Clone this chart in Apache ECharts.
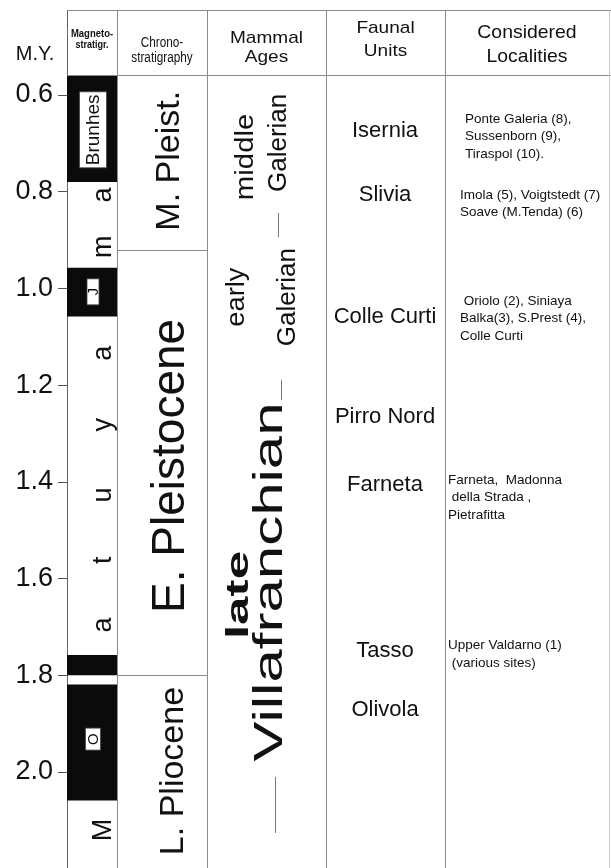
<!DOCTYPE html>
<html><head><meta charset="utf-8">
<script src="https://cdn.jsdelivr.net/npm/echarts@6/dist/echarts.min.js"></script>
<style>html,body{margin:0;padding:0;background:#fff}#c{width:611px;height:868px}</style>
</head><body><div id="c"></div>
<script>
// ---------------- data (ages in M.Y.) ----------------
const tableTop = 0.5586;                     // age at lower edge of header
const normalPolarity = [[0.5586, 0.78], [0.957, 1.058], [1.758, 1.800], [1.819, 2.059]];
const polarityLabels = ['Brunhes', 'J', 'O'];
const polarityLabelAges = [0.672, 1.007, 1.932];
const matuyamaLetters = ['a', 'm', 'a', 'y', 'u', 't', 'a', 'M'];
const matuyamaLetterAges = [0.807, 0.914, 1.134, 1.282, 1.427, 1.562, 1.696, 2.12];

const chronoNames = ['M. Pleist.', 'E. Pleistocene', 'L. Pliocene'];
const chronoLabelAges = [0.736, 1.367, 1.998];
const chronoBoundaries = [0.92, 1.80];

const mammalAgeWords = [['middle', 'Galerian'], ['early', 'Galerian'], ['late', 'Villafranchian']];
const mammalAgeWordAges = [[0.728, 0.699], [1.018, 1.018], [1.634, 1.607]];
const mammalAgeDashes = [[0.844, 0.894], [1.189, 1.231], [2.01, 2.126]];

const faunalUnits = ['Isernia', 'Slivia', 'Colle Curti', 'Pirro Nord', 'Farneta', 'Tasso', 'Olivola'];
const faunalUnitAges = [0.674, 0.807, 1.059, 1.266, 1.406, 1.75, 1.872];

const localities = [
  ['Ponte Galeria (8),', 'Sussenborn (9),', 'Tiraspol (10).'],
  ['Imola (5), Voigtstedt (7)', 'Soave (M.Tenda) (6)'],
  [' Oriolo (2), Siniaya', 'Balka(3), S.Prest (4),', 'Colle Curti'],
  ['Farneta,  Madonna', ' della Strada ,', 'Pietrafitta'],
  ['Upper Valdarno (1)', ' (various sites)']
];
const localityAges = [0.650, 0.807, 1.026, 1.396, 1.739];   // age of first text line

const yTickLabels = ['0.6', '0.8', '1.0', '1.2', '1.4', '1.6', '1.8', '2.0'];

// ---------------- layout / style ----------------
const FONT = '"Liberation Sans", Arial, Helvetica, sans-serif';
const INK = '#111';
const RULE = '#8a8a8a';
const GL = 67;   // grid left px
const ROT = Math.PI / 2;

function T(x, y, text, size, extra) {
  extra = extra || {};
  const el = {
    type: 'text', x: x, y: y,
    style: { text: text, fontSize: size, fontFamily: FONT, fontWeight: extra.weight || 'normal',
      fill: INK, align: extra.align || 'center', verticalAlign: 'middle' }
  };
  if (extra.rotation) el.rotation = extra.rotation;
  if (extra.scaleX) el.scaleX = extra.scaleX;
  if (extra.scaleY) el.scaleY = extra.scaleY;
  if (extra.z != null) el.z = extra.z;
  return el;
}

const chart = echarts.init(document.getElementById('c'), null, { renderer: 'canvas' });

const option = {
  animation: false,
  backgroundColor: '#fff',
  grid: { left: GL, right: 0, top: -1.7, height: 870.4, containLabel: false, outerBoundsMode: 'none' },
  xAxis: { type: 'value', min: 0, max: 544, show: false },
  yAxis: {
    type: 'value', inverse: true, min: 0.4, max: 2.2, interval: 0.2,
    axisLine: { show: true, lineStyle: { color: '#666', width: 1 } },
    axisTick: { show: true, inside: false, length: 9, lineStyle: { color: '#555' } },
    splitLine: { show: false },
    axisLabel: {
      margin: 14, fontSize: 27, color: INK, fontFamily: FONT,
      formatter: function (v) {
        const s = v.toFixed(1);
        return yTickLabels.indexOf(s) >= 0 ? s : '';
      }
    }
  },
  series: [
    { // normal polarity (black) intervals
      type: 'custom', silent: true,
      data: normalPolarity,
      renderItem: function (params, api) {
        const a = api.coord([0, api.value(0)]);
        const b = api.coord([50, api.value(1)]);
        return { type: 'rect', shape: { x: a[0], y: a[1], width: b[0] - a[0], height: b[1] - a[1] },
          style: { fill: '#0b0b0b' } };
      }
    },
    { // boxed chron names
      type: 'custom', silent: true, z: 3,
      data: polarityLabelAges.map(function (a) { return [0, a]; }),
      renderItem: function (params, api) {
        const i = params.dataIndex;
        const y = api.coord([0, api.value(1)])[1];
        const cx = GL + 26;
        const dims = [[27, 76, 19], [12, 26, 15], [15, 22, 15]][i];
        return { type: 'group', children: [
          { type: 'rect', shape: { x: cx - dims[0] / 2, y: y - dims[1] / 2, width: dims[0], height: dims[1] },
            style: { fill: '#fff', stroke: '#444', lineWidth: 0.8 } },
          T(cx + 0.5, y, polarityLabels[i], dims[2], { rotation: ROT })
        ] };
      }
    },
    { // Matuyama letters
      type: 'custom', silent: true, z: 3,
      data: matuyamaLetterAges.map(function (a) { return [0, a]; }),
      renderItem: function (params, api) {
        const y = api.coord([0, api.value(1)])[1];
        return T(GL + 37, y, matuyamaLetters[params.dataIndex], 27, { rotation: ROT });
      }
    },
    { // chronostratigraphy boundaries
      type: 'custom', silent: true,
      data: chronoBoundaries.map(function (a) { return [0, a]; }),
      renderItem: function (params, api) {
        const a = api.coord([50, api.value(1)]);
        const b = api.coord([140, api.value(1)]);
        return { type: 'line', shape: { x1: a[0], y1: Math.round(a[1]) + 0.5, x2: b[0] + 0.5, y2: Math.round(b[1]) + 0.5 },
          style: { stroke: RULE, lineWidth: 1 } };
      }
    },
    { // chronostratigraphy names
      type: 'custom', silent: true,
      data: chronoLabelAges.map(function (a) { return [0, a]; }),
      renderItem: function (params, api) {
        const i = params.dataIndex;
        const y = api.coord([0, api.value(1)])[1];
        const xs = [103, 104, 107], fs = [34, 46, 34];
        return T(GL + xs[i], y, chronoNames[i], fs[i], { rotation: ROT });
      }
    },
    { // mammal ages
      type: 'custom', silent: true,
      data: mammalAgeWordAges.map(function (a) { return [0, a[0], a[1]]; }),
      renderItem: function (params, api) {
        const i = params.dataIndex;
        const y1 = api.coord([0, api.value(1)])[1];
        const y2 = api.coord([0, api.value(2)])[1];
        const xs = [[179, 212], [170, 221], [172, 204]];
        const fs = [[26, 26], [26, 26], [32, 40]];
        const sc = [[1.13, 1], [1.05, 1], [1.6, 1.5]];
        const w = [['normal', 'normal'], ['normal', 'normal'], ['bold', 'normal']];
        return { type: 'group', children: [
          T(GL + xs[i][0], y1, mammalAgeWords[i][0], fs[i][0], { rotation: ROT, scaleX: sc[i][0], weight: w[i][0] }),
          T(GL + xs[i][1], y2, mammalAgeWords[i][1], fs[i][1], { rotation: ROT, scaleX: sc[i][1], weight: w[i][1] })
        ] };
      }
    },
    { // dash separators in mammal-age column
      type: 'custom', silent: true,
      data: mammalAgeDashes,
      renderItem: function (params, api) {
        const xs = [211, 214, 208];
        const x = GL + xs[params.dataIndex] + 0.5;
        const a = api.coord([0, api.value(0)]);
        const b = api.coord([0, api.value(1)]);
        return { type: 'line', shape: { x1: x, y1: a[1], x2: x, y2: b[1] }, style: { stroke: '#777', lineWidth: 1 } };
      }
    },
    { // faunal units
      type: 'custom', silent: true,
      data: faunalUnitAges.map(function (a) { return [0, a]; }),
      renderItem: function (params, api) {
        const y = api.coord([0, api.value(1)])[1];
        return T(GL + 318, y, faunalUnits[params.dataIndex], 22);
      }
    },
    { // considered localities
      type: 'custom', silent: true,
      data: localityAges.map(function (a) { return [0, a]; }),
      renderItem: function (params, api) {
        const i = params.dataIndex;
        const y0 = api.coord([0, api.value(1)])[1];
        const lefts = [398, 393, 393, 381, 381];
        const lh = 17.5;
        return { type: 'group', children: localities[i].map(function (t, k) {
          return T(GL + lefts[i], y0 + k * lh, t, 13.5, { align: 'left' });
        }) };
      }
    }
  ],
  graphic: [
    { type: 'rect', z: 100, shape: { x: 0, y: 0, width: 611, height: 10.5 }, style: { fill: '#fff' } },
    { type: 'line', z: 100, shape: { x1: 67, y1: 10.5, x2: 611, y2: 10.5 }, style: { stroke: RULE, lineWidth: 1 } },
    { type: 'line', z: 100, shape: { x1: 67, y1: 75.5, x2: 611, y2: 75.5 }, style: { stroke: RULE, lineWidth: 1 } },
    { type: 'line', z: 100, shape: { x1: 117.5, y1: 10.5, x2: 117.5, y2: 868 }, style: { stroke: RULE, lineWidth: 1 } },
    { type: 'line', z: 100, shape: { x1: 207.5, y1: 10.5, x2: 207.5, y2: 868 }, style: { stroke: RULE, lineWidth: 1 } },
    { type: 'line', z: 100, shape: { x1: 326.5, y1: 10.5, x2: 326.5, y2: 868 }, style: { stroke: RULE, lineWidth: 1 } },
    { type: 'line', z: 100, shape: { x1: 445.5, y1: 10.5, x2: 445.5, y2: 868 }, style: { stroke: RULE, lineWidth: 1 } },
    { type: 'line', z: 100, shape: { x1: 609.5, y1: 10.5, x2: 609.5, y2: 868 }, style: { stroke: '#c8c8c8', lineWidth: 1 } },
    Object.assign(T(35, 54, 'M.Y.', 20), { z: 100 }),
    Object.assign(T(92, 34, 'Magneto-', 9.5, { weight: 'bold', scaleY: 1.2 }), { z: 100 }),
    Object.assign(T(92, 45, 'stratigr.', 9, { weight: 'bold', scaleY: 1.2 }), { z: 100 }),
    Object.assign(T(162, 43.5, 'Chrono-', 14, { scaleX: 0.84 }), { z: 100 }),
    Object.assign(T(162, 58.5, 'stratigraphy', 14, { scaleX: 0.84 }), { z: 100 }),
    Object.assign(T(266.5, 38, 'Mammal', 17, { scaleX: 1.12 }), { z: 100 }),
    Object.assign(T(266.5, 57.5, 'Ages', 17, { scaleX: 1.12 }), { z: 100 }),
    Object.assign(T(385.5, 28, 'Faunal', 17, { scaleX: 1.12 }), { z: 100 }),
    Object.assign(T(385.5, 51, 'Units', 17, { scaleX: 1.12 }), { z: 100 }),
    Object.assign(T(527, 33, 'Considered', 18.5, { scaleX: 1.05 }), { z: 100 }),
    Object.assign(T(527, 57, 'Localities', 18.5, { scaleX: 1.05 }), { z: 100 })
  ]
};
chart.setOption(option);
</script>
</body></html>
